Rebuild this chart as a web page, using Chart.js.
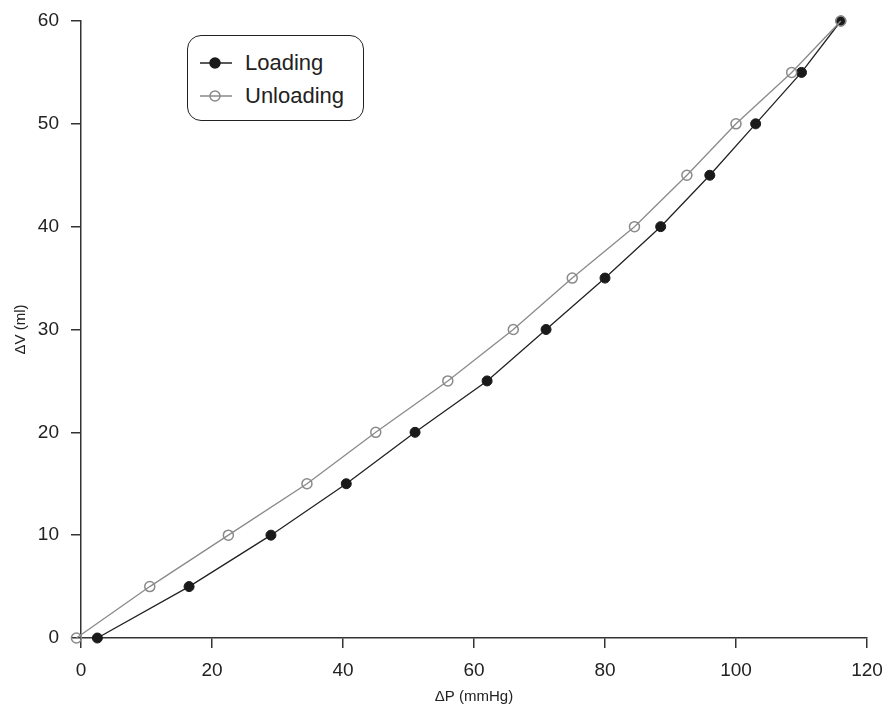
<!DOCTYPE html>
<html>
<head>
<meta charset="utf-8">
<script src="https://cdn.jsdelivr.net/npm/chart.js@4"></script>
<style>
  html, body { margin: 0; padding: 0; background: #fff; }
  #wrap { position: relative; width: 888px; height: 704px; }
  #legend {
    position: absolute; left: 187px; top: 35px; width: 175px; height: 84px;
    border: 1.5px solid #222; border-radius: 14px; background: #fff;
    font-family: "Liberation Sans", Arial, sans-serif; font-size: 22px; color: #222;
  }
  #legend .item { position: absolute; left: 12px; height: 30px; display: flex; align-items: center; }
  #legend svg { margin-right: 13px; }
</style>
</head>
<body>
<div id="wrap">
  <canvas id="grafico" width="888" height="704"></canvas>
  <div id="legend"></div>
</div>
<script>
// datos
const volumen = [0, 5, 10, 15, 20, 25, 30, 35, 40, 45, 50, 55, 60];
const presionCarga = [2.5, 16.5, 29, 40.5, 51, 62, 71, 80, 88.5, 96, 103, 110, 116];
const presionDescarga = [-0.7, 10.5, 22.5, 34.5, 45, 56, 66, 75, 84.5, 92.5, 100, 108.5, 116];
const etiquetas = ["Loading", "Unloading"];
const ticksX = [0, 20, 40, 60, 80, 100, 120];
const ticksY = [0, 10, 20, 30, 40, 50, 60];

const fuente = "'Liberation Sans', Arial, sans-serif";

function puntos(xs, ys) {
  return xs.map((x, i) => ({ x: x, y: ys[i] }));
}

const ejeComun = {
  border: { display: true, color: "#333", width: 1.5 },
  grid: { drawOnChartArea: false, drawTicks: true, tickLength: 10, color: "#333", lineWidth: 1.5 },
};

const chart = new Chart(document.getElementById("grafico"), {
  type: "line",
  data: {
    datasets: [
      {
        label: etiquetas[0],
        data: puntos(presionCarga, volumen),
        borderColor: "#222",
        borderWidth: 1.3,
        backgroundColor: "#1a1a1a",
        pointBackgroundColor: "#1a1a1a",
        pointBorderColor: "#1a1a1a",
        pointRadius: 5,
        pointBorderWidth: 1,
        clip: false,
        order: 2
      },
      {
        label: etiquetas[1],
        data: puntos(presionDescarga, volumen),
        borderColor: "#8a8a8a",
        borderWidth: 1.3,
        backgroundColor: "rgba(0,0,0,0)",
        pointBackgroundColor: "rgba(0,0,0,0)",
        pointBorderColor: "#8a8a8a",
        pointRadius: 5,
        pointBorderWidth: 1.5,
        clip: false,
        order: 1
      }
    ]
  },
  options: {
    responsive: false,
    animation: false,
    layout: { padding: { left: 0, right: 21, top: 21, bottom: 0 } },
    plugins: { legend: { display: false }, tooltip: { enabled: false } },
    scales: {
      x: {
        type: "linear",
        min: 0, max: 120,
        ...ejeComun,
        afterBuildTicks: s => { s.ticks = ticksX.map(v => ({ value: v })); },
        afterFit: s => { s.height = 66; s.paddingLeft = 0; s.paddingRight = 0; },
        ticks: { color: "#222", font: { family: fuente, size: 19 }, padding: 11, maxRotation: 0 },
        title: { display: true, text: "ΔP (mmHg)", color: "#222", font: { family: fuente, size: 15, lineHeight: 1 }, padding: { top: 0, bottom: 0 } }
      },
      y: {
        type: "linear",
        min: 0, max: 60,
        ...ejeComun,
        afterBuildTicks: s => { s.ticks = ticksY.map(v => ({ value: v })); },
        afterFit: s => { s.width = 81; s.paddingTop = 0; s.paddingBottom = 0; },
        ticks: { color: "#222", font: { family: fuente, size: 19 }, padding: 12 },
        title: { display: true, text: "ΔV (ml)", color: "#222", font: { family: fuente, size: 15 }, padding: { top: 12, bottom: 0 } }
      }
    }
  }
});

// leyenda en HTML con las series del grafico
const leyenda = document.getElementById("legend");
chart.data.datasets.forEach((ds, i) => {
  const item = document.createElement("div");
  item.className = "item";
  item.style.top = (12 + i * 33) + "px";
  const relleno = ds.pointBackgroundColor;
  item.innerHTML =
    `<svg width="32" height="14"><line x1="0" y1="7" x2="32" y2="7" stroke="${ds.borderColor}" stroke-width="1.5"/>` +
    `<circle cx="15" cy="7" r="5" fill="${relleno}" stroke="${ds.pointBorderColor}" stroke-width="1.5"/></svg>` +
    `<span>${ds.label}</span>`;
  leyenda.appendChild(item);
});
</script>
</body>
</html>
